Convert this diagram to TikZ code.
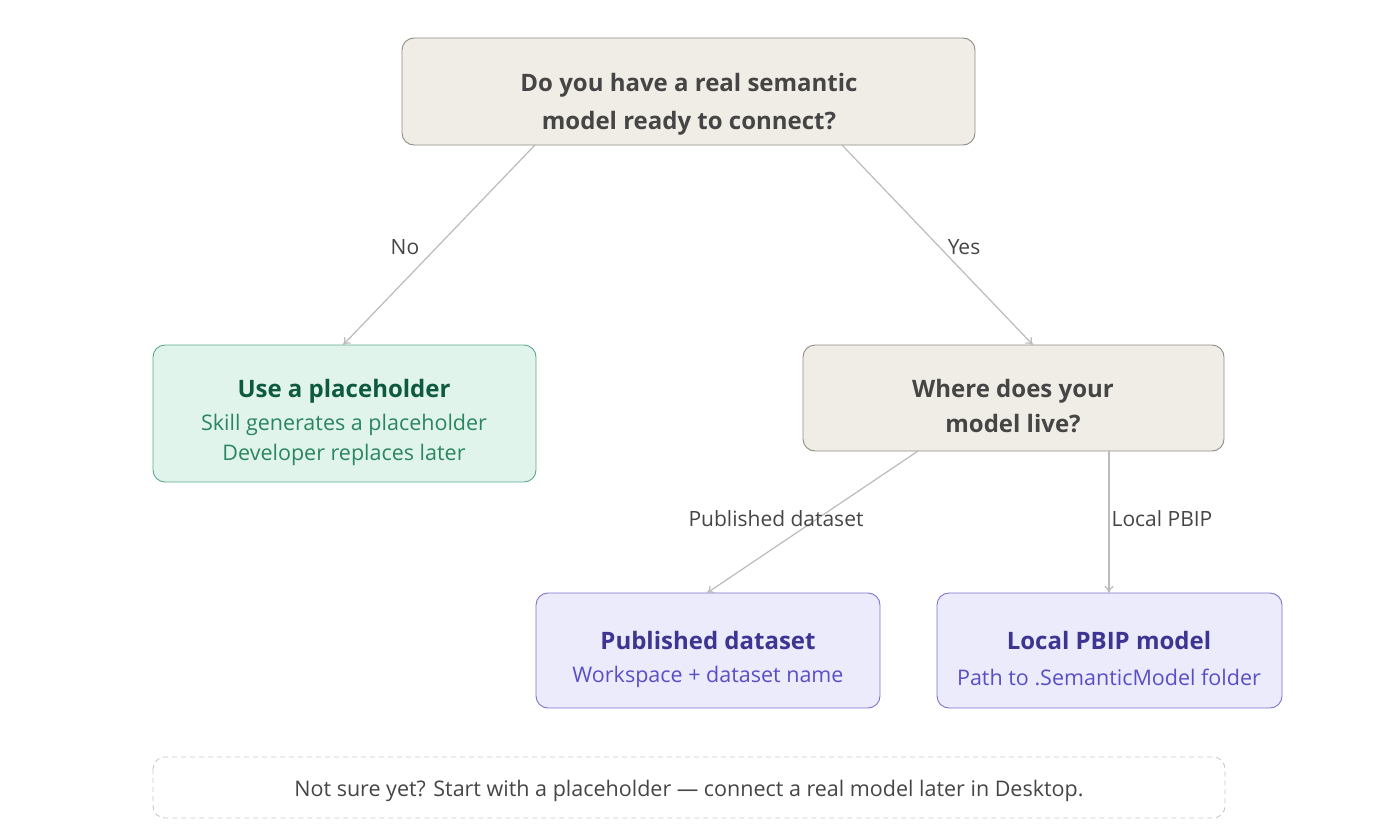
\documentclass[tikz,border=0pt]{standalone}
\usepackage{fontspec}
\setmainfont{Open Sans}
\usetikzlibrary{arrows.meta}
\definecolor{qfill}{HTML}{F0EDE6}
\definecolor{qdraw}{HTML}{8F8C86}
\definecolor{qtext}{HTML}{454545}
\definecolor{gfill}{HTML}{E1F4EC}
\definecolor{gdraw}{HTML}{5DAA8A}
\definecolor{gtitle}{HTML}{0E5A40}
\definecolor{gtext}{HTML}{2A8561}
\definecolor{pfill}{HTML}{ECEBFC}
\definecolor{pdraw}{HTML}{7D72D2}
\definecolor{ptitle}{HTML}{3E3592}
\definecolor{ptext}{HTML}{5A4EC6}
\definecolor{edge}{HTML}{BBBBBB}
\definecolor{dash}{HTML}{C8C8C8}
\begin{document}
\begin{tikzpicture}[x=1pt,y=-1pt,
  box/.style={rounded corners=12pt, line width=0.9pt},
  qbox/.style={box, fill=qfill, draw=qdraw},
  gbox/.style={box, fill=gfill, draw=gdraw},
  pbox/.style={box, fill=pfill, draw=pdraw},
  conn/.style={draw=edge, line width=1.2pt, -{To[length=7pt,width=9pt]}},
  lbl/.style={font=\fontsize{21}{24}\selectfont, text=qtext, inner sep=1pt},
  ttl/.style={font=\fontsize{24}{28}\selectfont\bfseries},
  sub/.style={font=\fontsize{21.5}{25}\selectfont}]
\useasboundingbox (0,0) rectangle (1377,838);
% boxes
\draw[qbox] (402,38) rectangle (975,145);
\draw[gbox] (153,345) rectangle (536,482);
\draw[qbox] (803,345) rectangle (1224,451);
\draw[pbox] (536,593) rectangle (880,708);
\draw[pbox] (937,593) rectangle (1282,708);
\draw[draw=dash, line width=0.9pt, dashed, dash pattern=on 5pt off 4pt, rounded corners=12pt] (153,757) rectangle (1225,818);
% anchors as coordinates
\coordinate (qL) at (535,145);
\coordinate (qR) at (842,145);
\coordinate (gT) at (343,345);
\coordinate (wT) at (1033,345);
\coordinate (wL) at (918,451);
\coordinate (wR) at (1109,451);
\coordinate (pT) at (707,593);
\coordinate (lT) at (1109,593);
% texts
\node[ttl, text=qtext] (q1) at (689,85) {Do you have a real semantic};
\node[ttl, text=qtext] (q2) at (689,123) {model ready to connect?};
\node[ttl, text=gtitle] (g1) at (344,391) {Use a placeholder};
\node[sub, text=gtext] (g2) at (344,425) {Skill generates a placeholder};
\node[sub, text=gtext] (g3) at (344,455) {Developer replaces later};
\node[ttl, text=qtext] (w1) at (1013,391) {Where does your};
\node[ttl, text=qtext] (w2) at (1013,424) {model live?};
\node[ttl, text=ptitle] (p1) at (708,640) {Published dataset};
\node[sub, text=ptext] (p2) at (708,677) {Workspace + dataset name};
\node[ttl, text=ptitle] (l1) at (1109,640) {Local PBIP model};
\node[sub, text=ptext] (l2) at (1109,677) {Path to .SemanticModel folder};
\node[lbl, font=\fontsize{21.5}{25}\selectfont] (note) at (689,791) {Not sure yet? Start with a placeholder --- connect a real model later in Desktop.};
% connectors
\draw[conn] (qL) -- (gT);
\draw[conn] (qR) -- (wT);
\draw[conn] (wL) -- (pT);
\draw[conn] (wR) -- (lT);
\node[lbl] (nNo) at (405,247) {No};
\node[lbl] (nYes) at (964,247) {Yes};
\node[lbl] (nPub) at (776,519) {Published dataset};
\node[lbl] (nLoc) at (1162,519) {Local PBIP};
\end{tikzpicture}
\end{document}
